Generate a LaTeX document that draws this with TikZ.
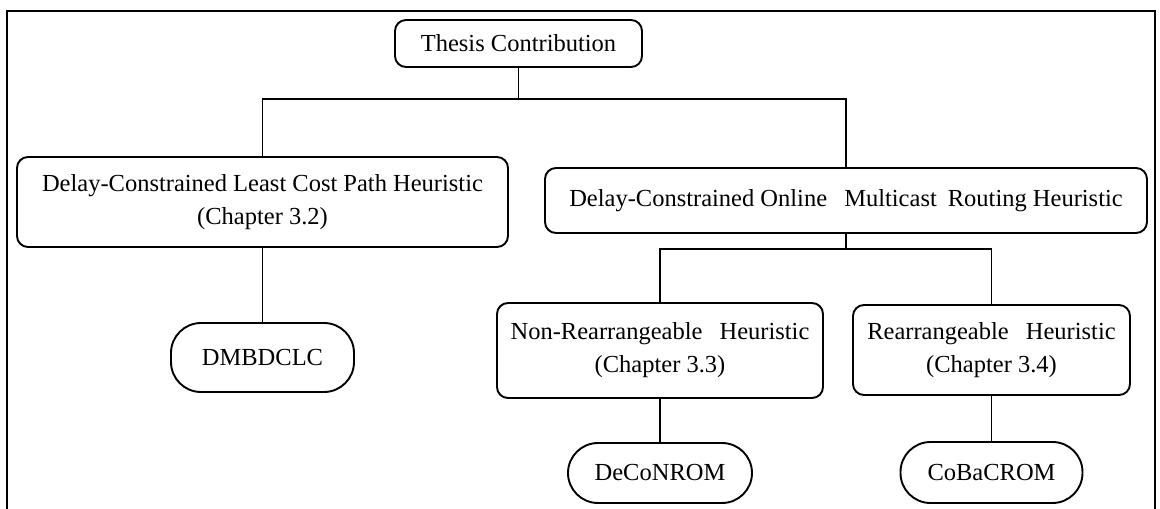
\documentclass[tikz,border=0pt]{standalone}
\usepackage{fontspec}
\setmainfont{Liberation Serif}
\begin{document}
\begin{tikzpicture}[x=1pt,y=-1pt,
  box/.style={draw, line width=1.9pt, rounded corners=11pt, inner sep=0pt,
    align=center, font=\fontsize{24.5}{33}\selectfont},
  pill/.style={box, rounded corners=30pt},
  link/.style={line width=1.6pt},
  frame/.style={line width=1.8pt}]
\useasboundingbox (0,0) rectangle (1160,509);
\fill[white] (0,0) rectangle (1160,509);

% open frame around the chart
\draw[frame] (7,509) -- (7,11) -- (1155,11) -- (1155,509);

% nodes
\node[box, minimum width=247pt, minimum height=47pt] (tc) at (518.5,43.5) {Thesis Contribution};
\node[box, minimum width=491pt, minimum height=90pt] (dl) at (262.5,202)
  {Delay-Constrained Least Cost Path Heuristic\\(Chapter 3.2)};
\node[box, minimum width=602pt, minimum height=65pt] (dr) at (846,200.5)
  {Delay-Constrained Online\hspace{0.7em}Multicast\hspace{0.2em} Routing Heuristic};
\node[pill, minimum width=183pt, minimum height=69pt] (dm) at (262.5,357.5) {DMBDCLC};
\node[box, minimum width=326pt, minimum height=95pt] (nr) at (660,350.5)
  {Non-Rearrangeable\hspace{0.45em} Heuristic\\(Chapter 3.3)};
\node[box, minimum width=277pt, minimum height=90pt] (rr) at (991.5,350)
  {Rearrangeable\hspace{0.45em} Heuristic\\(Chapter 3.4)};
\node[pill, minimum width=184pt, minimum height=60pt] (dc) at (660,473) {DeCoNROM};
\node[pill, minimum width=182pt, minimum height=61pt] (cb) at (991.5,472.5) {CoBaCROM};

% bus levels
\coordinate (bus1) at (0,99);
\coordinate (bus2) at (0,249);

% connectors
\draw[link] (tc.south) -- (tc.south |- bus1);
\draw[link] (dl.north) |- (dr.north |- bus1) -- (dr.north);
\draw[link] (dl.south) -- (dm.north);
\draw[link] (dr.south) -- (dr.south |- bus2);
\draw[link] (nr.north) |- (rr.north |- bus2) -- (rr.north);
\draw[link] (nr.south) -- (dc.north);
\draw[link] (rr.south) -- (cb.north);
\end{tikzpicture}
\end{document}
